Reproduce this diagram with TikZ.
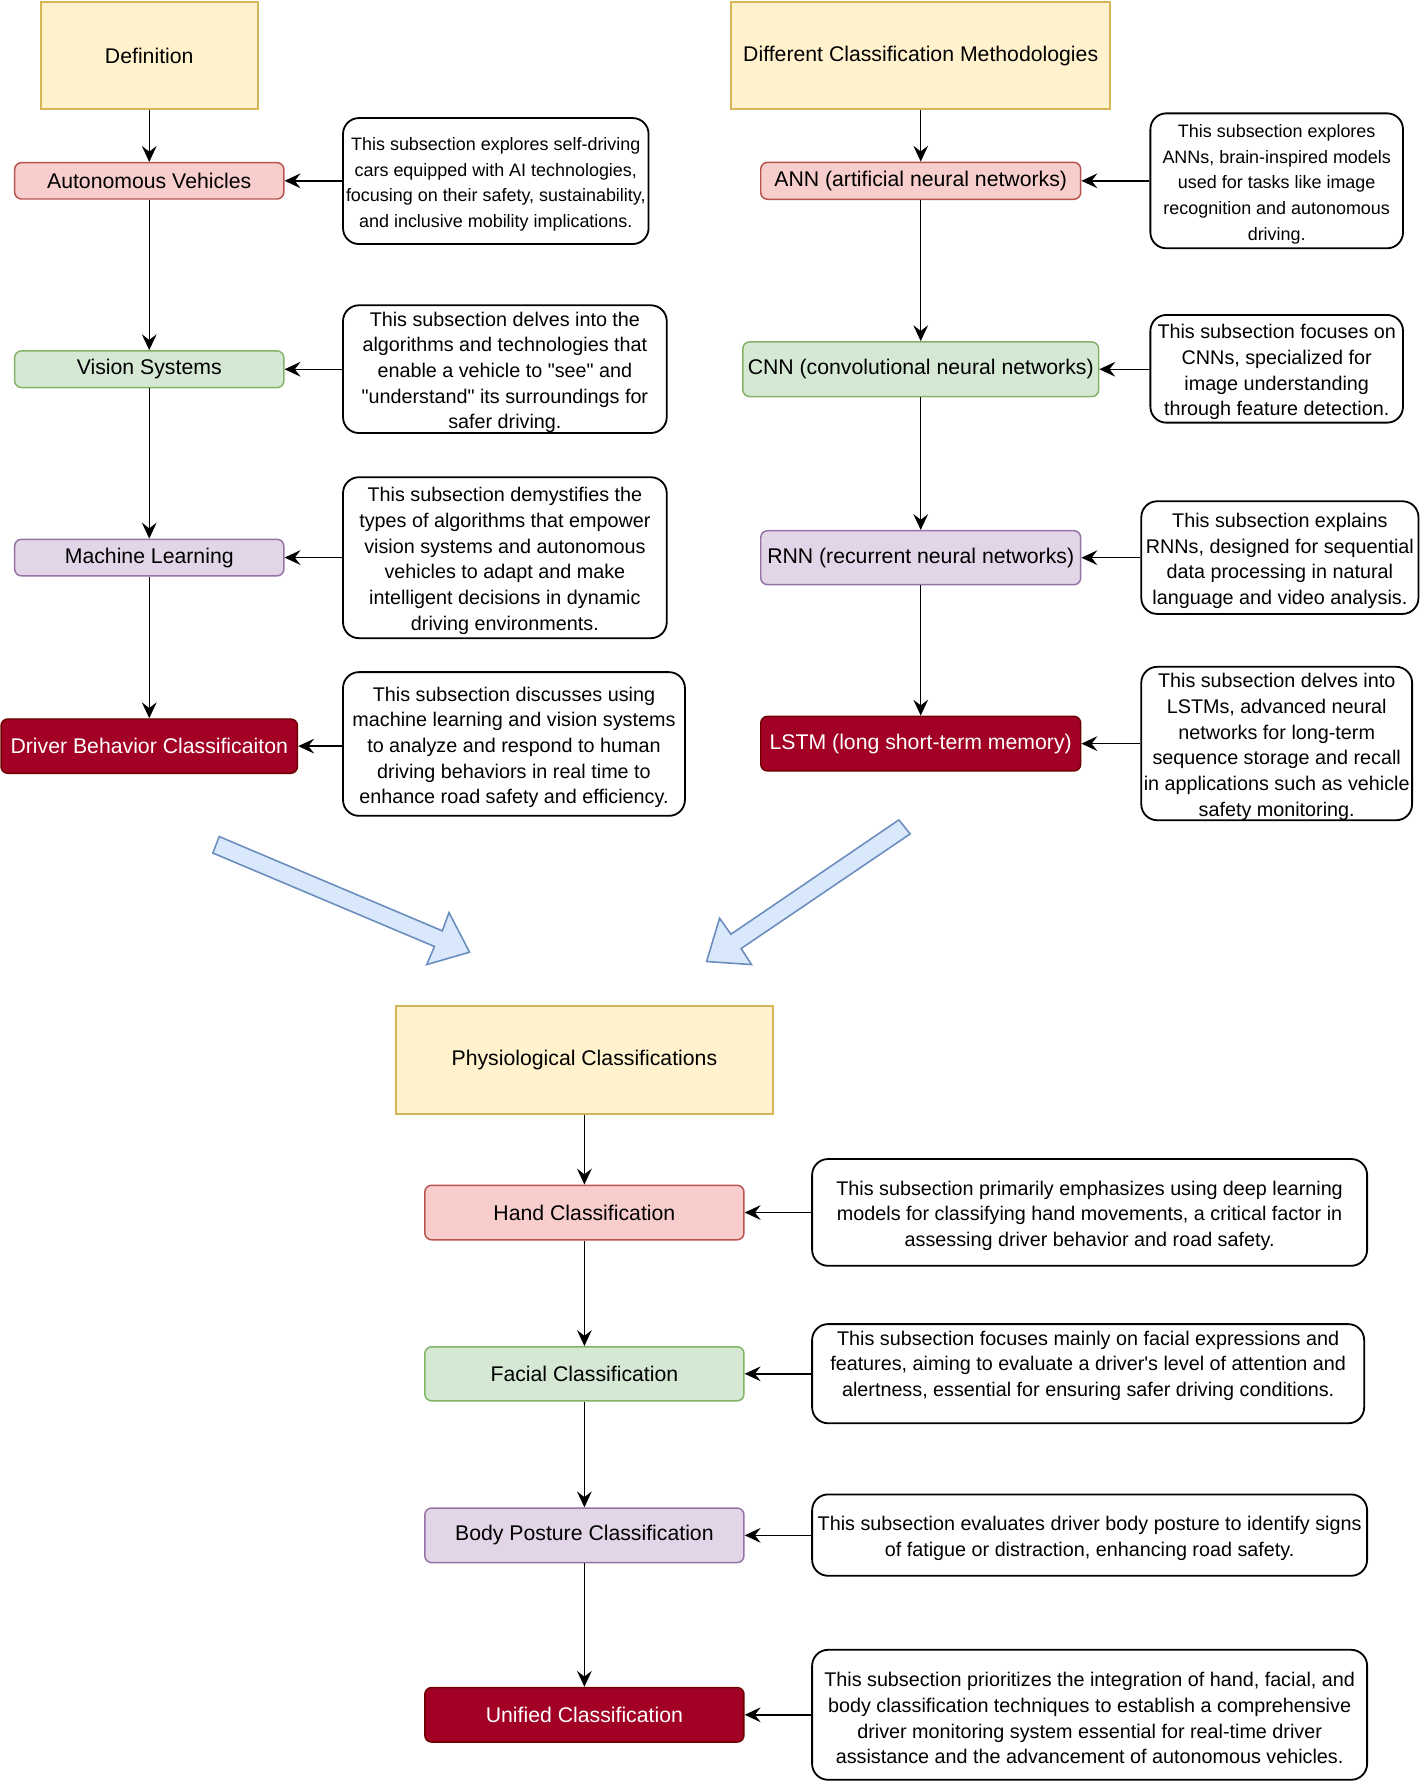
\documentclass[tikz,border=0pt]{standalone}
\usepackage{fontspec}
\setmainfont{Liberation Sans}
\usetikzlibrary{arrows.meta}
\definecolor{yfill}{HTML}{FFF2CC}
\definecolor{ydraw}{HTML}{D6B656}
\definecolor{rfill}{HTML}{F8CECC}
\definecolor{rdraw}{HTML}{B85450}
\definecolor{gfill}{HTML}{D5E8D4}
\definecolor{gdraw}{HTML}{82B366}
\definecolor{pfill}{HTML}{E1D5E7}
\definecolor{pdraw}{HTML}{9673A6}
\definecolor{dfill}{HTML}{A20025}
\definecolor{ddraw}{HTML}{6F0000}
\definecolor{bfill}{HTML}{DAE8FC}
\definecolor{bdraw}{HTML}{6C8EBF}
\newcommand{\dq}{\textquotedbl}
\newcommand{\fl}{\rule{0pt}{\dimexpr0.716em+6pt\relax}}
\tikzset{
  base/.style={draw, line width=1.3pt, inner sep=0pt, align=center, font=\fontsize{18.7}{22}\selectfont},
  yel/.style={base, fill=yfill, draw=ydraw, line width=1.6pt},
  redn/.style={base, rounded corners=6pt, fill=rfill, draw=rdraw},
  grn/.style={base, rounded corners=6pt, fill=gfill, draw=gdraw},
  pur/.style={base, rounded corners=6pt, fill=pfill, draw=pdraw},
  drk/.style={base, rounded corners=6pt, fill=dfill, draw=ddraw, text=white},
  desc/.style={draw=black, line width=1.6pt, rounded corners=14pt, inner sep=0pt, align=center,
    font=\fontsize{17.4}{22.6}\selectfont},
  descs/.style={desc, font=\fontsize{15.8}{22.7}\selectfont},
  desctext/.style={inner sep=0pt, align=center, font=\fontsize{17.4}{22.3}\selectfont},
  conn/.style={draw=black, line width=1.3pt, -{Stealth[length=14pt,width=13pt,inset=5pt]}},
  bigarrow/.style={draw=bdraw, fill=bfill, line width=1.4pt, line join=miter},
}
\begin{document}
\begin{tikzpicture}[x=1pt,y=-1pt]
\fill[white] (0,0) rectangle (1250,1568);
\useasboundingbox (0,0) rectangle (1250,1568);

% ---------- left column ----------
\node[yel, minimum width=191pt, minimum height=94.7pt] (def) at (131.4,48.9) {Definition};
\node[redn, minimum width=237pt, minimum height=32pt] (av) at (131.4,159.2) {Autonomous Vehicles};
\node[grn, minimum width=237pt, minimum height=32.3pt] (vs) at (131.4,325.1) {Vision Systems};
\node[pur, minimum width=237pt, minimum height=32.2pt] (ml) at (131.4,490.9) {Machine Learning};
\node[drk, minimum width=261pt, minimum height=47.8pt] (dbc) at (131.4,656.9) {Driver Behavior Classificaiton};

\node[descs, minimum width=269pt, minimum height=110.9pt] (d1) at (436.5,159.4)
 {\fl This subsection explores self-driving\\cars equipped with AI technologies,\\focusing on their safety, sustainability,\\and inclusive mobility implications.};
\node[desc, minimum width=285pt, minimum height=111.2pt] (d2) at (444.5,325)
 {\fl This subsection delves into the\\algorithms and technologies that\\enable a vehicle to \dq see\dq{} and\\\dq understand\dq{} its surroundings for\\safer driving.};
\node[desc, minimum width=285pt, minimum height=141.7pt] (d3) at (444.5,491)
 {\fl This subsection demystifies the\\types of algorithms that empower\\vision systems and autonomous\\vehicles to adapt and make\\intelligent decisions in dynamic\\driving environments.};
\node[desc, minimum width=301pt, minimum height=126.5pt] (d4) at (452.5,655)
 {\fl This subsection discusses using\\machine learning and vision systems\\to analyze and respond to human\\driving behaviors in real time to\\enhance road safety and efficiency.};

\draw[conn] (def.south) -- (av.north);
\draw[conn] (av.south) -- (vs.north);
\draw[conn] (vs.south) -- (ml.north);
\draw[conn] (ml.south) -- (dbc.north);
\draw[conn] (d1.west |- av.east) -- (av.east);
\draw[conn] (d2.west |- vs.east) -- (vs.east);
\draw[conn] (d3.west |- ml.east) -- (ml.east);
\draw[conn] (d4.west |- dbc.east) -- (dbc.east);

% ---------- right column ----------
\node[yel, minimum width=333.7pt, minimum height=94.7pt] (dcm) at (810.6,48.9) {Different Classification Methodologies};
\node[redn, minimum width=281.7pt, minimum height=32.5pt] (ann) at (810.6,159.2) {ANN (artificial neural networks)};
\node[grn, minimum width=313.2pt, minimum height=48.2pt] (cnn) at (810.6,325.1) {CNN (convolutional neural networks)};
\node[pur, minimum width=281.7pt, minimum height=47.5pt] (rnn) at (810.6,491) {RNN (recurrent neural networks)};
\node[drk, minimum width=281.7pt, minimum height=48.1pt] (lstm) at (810.6,654.7) {LSTM (long short-term memory)};

\node[descs, minimum width=222.4pt, minimum height=118.8pt] (e1) at (1124,159.2)
 {\fl This subsection explores\\ANNs, brain-inspired models\\used for tasks like image\\recognition and autonomous\\driving.};
\node[desc, minimum width=222.4pt, minimum height=94.8pt] (e2) at (1124,324.7)
 {\fl This subsection focuses on\\CNNs, specialized for\\image understanding\\through feature detection.};
\node[desc, minimum width=244pt, minimum height=99.2pt] (e3) at (1126.8,490.9)
 {\fl This subsection explains\\RNNs, designed for sequential\\data processing in natural\\language and video analysis.};
\node[desc, minimum width=238.4pt, minimum height=134.4pt] (e4) at (1124,654.6)
 {\fl This subsection delves into\\LSTMs, advanced neural\\networks for long-term\\sequence storage and recall\\in applications such as vehicle\\safety monitoring.};

\draw[conn] (dcm.south) -- (ann.north);
\draw[conn] (ann.south) -- (cnn.north);
\draw[conn] (cnn.south) -- (rnn.north);
\draw[conn] (rnn.south) -- (lstm.north);
\draw[conn] (e1.west |- ann.east) -- (ann.east);
\draw[conn] (e2.west |- cnn.east) -- (cnn.east);
\draw[conn] (e3.west |- rnn.east) -- (rnn.east);
\draw[conn] (e4.west |- lstm.east) -- (lstm.east);

% ---------- big arrows ----------
\draw[bigarrow] (193,736.5) -- (389.4,819.5) -- (395.3,803.4) -- (413.4,838.3)
  -- (375.7,849.2) -- (382.5,833.3) -- (187.4,751) -- cycle;
\draw[bigarrow] (791.4,721.8) -- (643.5,822.5) -- (633.5,808.4) -- (622.1,846.5)
  -- (661.6,849.2) -- (652.5,835.1) -- (801.3,734.2) -- cycle;

% ---------- bottom column ----------
\node[yel, minimum width=332pt, minimum height=95pt] (phy) at (514.5,933.1) {Physiological Classifications};
\node[redn, minimum width=281pt, minimum height=48pt] (hand) at (514.5,1067.5) {Hand Classification};
\node[grn, minimum width=281pt, minimum height=47.6pt] (face) at (514.5,1209.5) {Facial Classification};
\node[pur, minimum width=281pt, minimum height=48pt] (body) at (514.5,1351.7) {Body Posture Classification};
\node[drk, minimum width=281pt, minimum height=48pt] (uni) at (514.5,1509.7) {Unified Classification};

\node[desc, minimum width=488.6pt, minimum height=94pt] (f1) at (959.3,1067.4)
 {\fl This subsection primarily emphasizes using deep learning\\models for classifying hand movements, a critical factor in\\assessing driver behavior and road safety.};
\node[draw=black, line width=1.6pt, rounded corners=14pt, minimum width=486pt, minimum height=87.3pt] (f2) at (958,1209.4) {};
\node[desctext] (f2t) at (958,1202.5)
 {This subsection focuses mainly on facial expressions and\\features, aiming to evaluate a driver\textquotesingle s level of attention and\\alertness, essential for ensuring safer driving conditions.};
\node[desc, minimum width=488.6pt, minimum height=71.6pt] (f3) at (959.3,1351.5)
 {\fl This subsection evaluates driver body posture to identify signs\\of fatigue or distraction, enhancing road safety.};
\node[desc, minimum width=488.6pt, minimum height=114.4pt] (f4) at (959.3,1509.7)
 {\fl This subsection prioritizes the integration of hand, facial, and\\body classification techniques to establish a comprehensive\\driver monitoring system essential for real-time driver\\assistance and the advancement of autonomous vehicles.};

\draw[conn] (phy.south) -- (hand.north);
\draw[conn] (hand.south) -- (face.north);
\draw[conn] (face.south) -- (body.north);
\draw[conn] (body.south) -- (uni.north);
\draw[conn] (f1.west |- hand.east) -- (hand.east);
\draw[conn] (f2.west |- face.east) -- (face.east);
\draw[conn] (f3.west |- body.east) -- (body.east);
\draw[conn] (f4.west |- uni.east) -- (uni.east);
\end{tikzpicture}
\end{document}
